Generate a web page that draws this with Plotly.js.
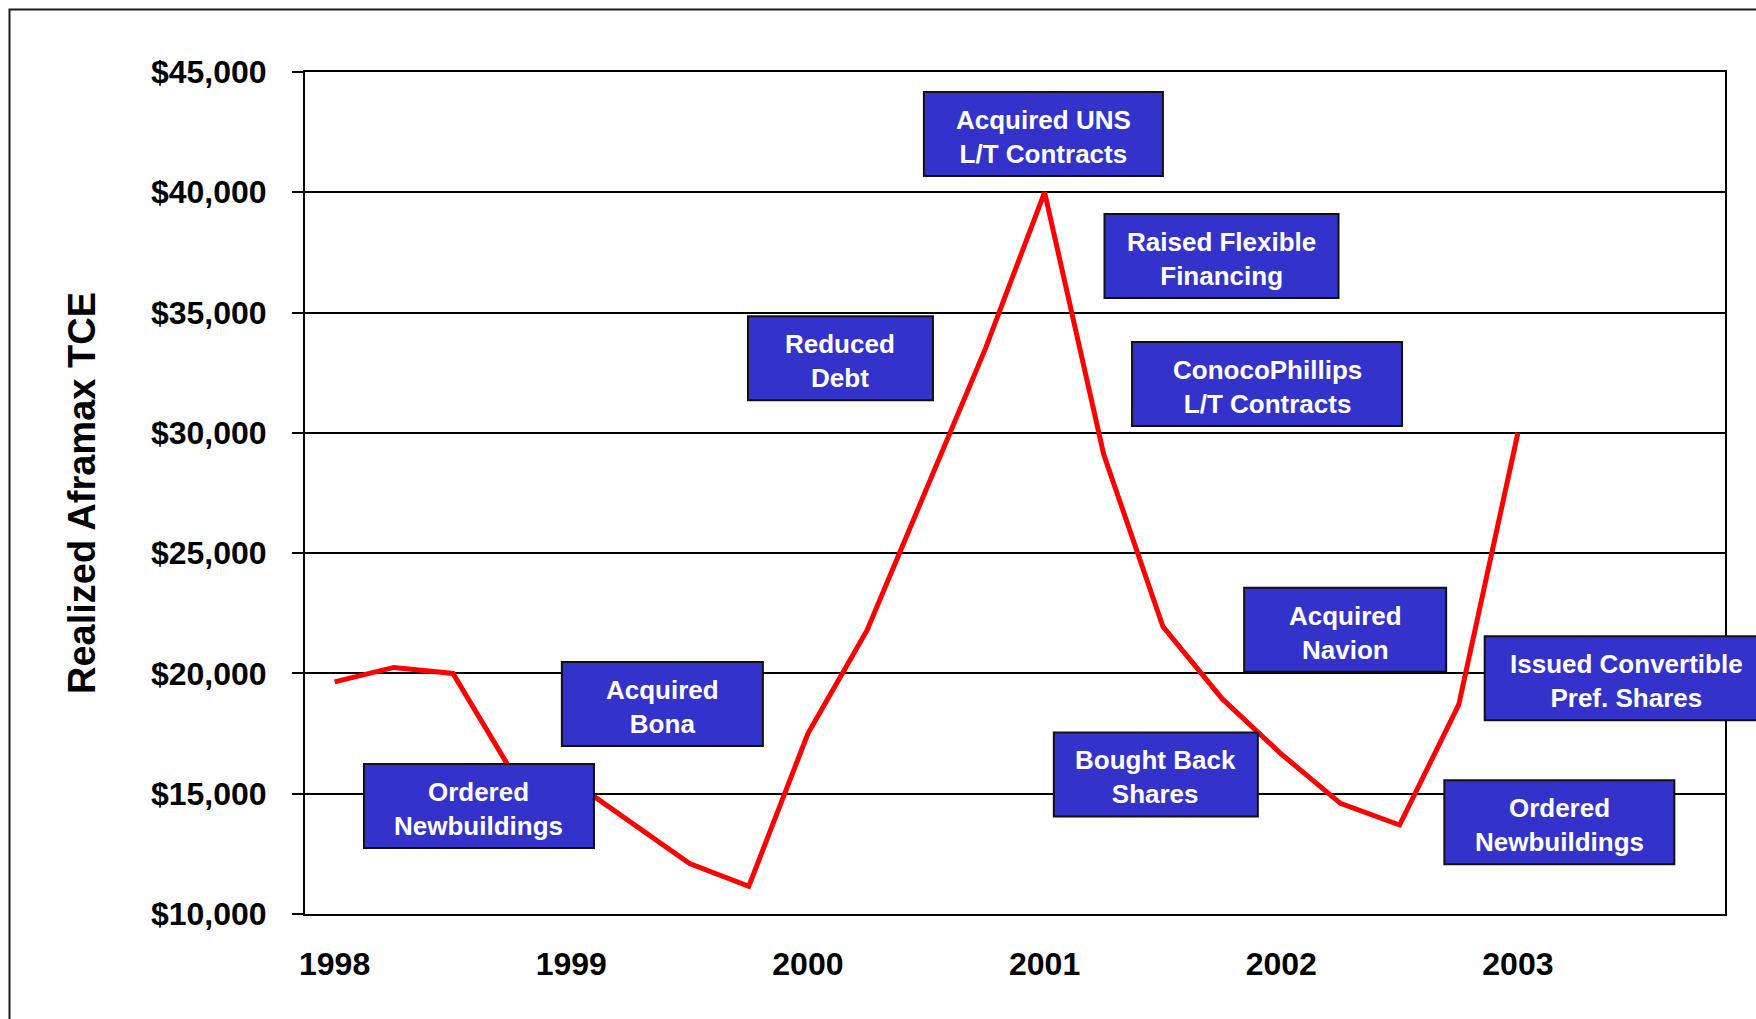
<!DOCTYPE html>
<html>
<head>
<meta charset="utf-8">
<script src="https://cdn.plot.ly/plotly-3.0.1.min.js"></script>
<style>
  html, body { margin: 0; padding: 0; background: #ffffff; }
  #chart { width: 1756px; height: 1019px; }
</style>
</head>
<body>
<div id="chart"></div>
<script>
// Realized Aframax time-charter-equivalent rates, quarterly (USD per day)
const quarters = [
  '1998 Q1', '1998 Q2', '1998 Q3', '1998 Q4',
  '1999 Q1', '1999 Q2', '1999 Q3', '1999 Q4',
  '2000 Q1', '2000 Q2', '2000 Q3', '2000 Q4',
  '2001 Q1', '2001 Q2', '2001 Q3', '2001 Q4',
  '2002 Q1', '2002 Q2', '2002 Q3', '2002 Q4',
  '2003 Q1'
];
const tceRates = [
  19650, 20250, 20000, 15900,
  15550, 13800, 12100, 11150,
  17500, 21800, 27600, 33500,
  40000, 29100, 21950, 18950,
  16650, 14600, 13700, 18700,
  30000
];

// Year labels on the time axis
const yearLabels = ['1998', '1999', '2000', '2001', '2002', '2003'];

// Corporate events called out on the chart
const eventNotes = [
  'Ordered<br>Newbuildings',
  'Acquired<br>Bona',
  'Reduced<br>Debt',
  'Acquired UNS<br>L/T Contracts',
  'Raised Flexible<br>Financing',
  'ConocoPhillips<br>L/T Contracts',
  'Acquired<br>Navion',
  'Bought Back<br>Shares',
  'Ordered<br>Newbuildings',
  'Issued Convertible<br>Pref. Shares'
];

// Where each event box sits (quarter slot, dollar level) and how wide it is (px)
const calloutPlacement = [
  { x: 2.44,  y: 14490, w: 232 },
  { x: 5.54,  y: 18734, w: 203 },
  { x: 8.55,  y: 33105, w: 187 },
  { x: 11.98, y: 42425, w: 241 },
  { x: 14.99, y: 37353, w: 236 },
  { x: 15.76, y: 32028, w: 272 },
  { x: 17.08, y: 21814, w: 204 },
  { x: 13.88, y: 15803, w: 206 },
  { x: 20.70, y: 13816, w: 232 },
  { x: 21.83, y: 19798, w: 285 }
];

const FONT = '"Liberation Sans", Arial, Helvetica, sans-serif';
const QUARTER_SLOTS = 24;               // 1998 Q1 .. 2003 Q4
const xRange = [-0.5, QUARTER_SLOTS - 0.5];
const yRange = [10000, 45000];

const WIDTH = 1756, HEIGHT = 1019;
const MARGIN = { l: 305, r: 31, t: 72, b: 105, pad: 0 };
const plotW = WIDTH - MARGIN.l - MARGIN.r;
const plotH = HEIGHT - MARGIN.t - MARGIN.b;
const BOX_H = 86;                       // outer height of an event box, px

const quarterIndex = quarters.map((q, i) => i);
const yearTickVals = yearLabels.map((y, i) => i * 4);
const halfYearBounds = [];
for (let v = xRange[0]; v <= xRange[1] + 1e-9; v += 2) halfYearBounds.push(v);

// data value -> paper fraction
const xPaper = v => (v - xRange[0]) / (xRange[1] - xRange[0]);
const yPaper = v => (v - yRange[0]) / (yRange[1] - yRange[0]);

const trace = {
  x: quarterIndex,
  y: tceRates,
  text: quarters,
  type: 'scatter',
  mode: 'lines',
  line: { color: '#FF0000', width: 5 },
  hovertemplate: '%{text}: $%{y:,d}<extra></extra>',
  showlegend: false
};

// Blue event boxes (paper-referenced so the last one may run past the plot edge)
const boxShapes = calloutPlacement.map(p => {
  const halfW = (p.w - 2) / 2 / plotW;
  const halfH = (BOX_H - 2) / 2 / plotH;
  const cx = xPaper(p.x), cy = yPaper(p.y);
  return {
    type: 'rect',
    xref: 'paper', yref: 'paper',
    x0: cx - halfW, x1: cx + halfW,
    y0: cy - halfH, y1: cy + halfH,
    fillcolor: '#3333CC',
    line: { color: '#111111', width: 2 },
    layer: 'above'
  };
});

const annotations = eventNotes.map((note, i) => {
  const p = calloutPlacement[i];
  return {
    xref: 'x', yref: 'y',
    x: p.x, y: p.y,
    xanchor: 'center', yanchor: 'middle',
    yshift: -3,
    text: '<b>' + note + '</b>',
    showarrow: false,
    align: 'center',
    font: { family: FONT, size: 26, color: '#ffffff' }
  };
});

const tickAxisBase = {
  overlaying: 'x',
  anchor: 'y',
  range: xRange,
  tickmode: 'array',
  tickvals: halfYearBounds,
  ticklen: 9,
  tickwidth: 2,
  tickcolor: '#000000',
  showticklabels: false,
  showgrid: false,
  zeroline: false,
  showline: false,
  fixedrange: true
};

const layout = {
  width: WIDTH,
  height: HEIGHT,
  margin: MARGIN,
  paper_bgcolor: '#ffffff',
  plot_bgcolor: '#ffffff',
  showlegend: false,
  font: { family: FONT, color: '#000000' },
  xaxis: {
    range: xRange,
    tickmode: 'array',
    tickvals: yearTickVals,
    ticktext: yearLabels,
    ticks: '',
    showgrid: false,
    zeroline: false,
    showline: true,
    mirror: true,
    linecolor: '#000000',
    linewidth: 2,
    tickfont: { family: FONT, size: 32, color: '#000000', weight: 'bold' },
    ticklabelstandoff: 21,
    fixedrange: true
  },
  xaxis2: Object.assign({}, tickAxisBase, { ticks: 'outside' }),
  xaxis3: Object.assign({}, tickAxisBase, { ticks: 'inside' }),
  yaxis: {
    range: yRange,
    tick0: 10000,
    dtick: 5000,
    tickprefix: '$',
    tickformat: ',d',
    showgrid: true,
    gridcolor: '#000000',
    gridwidth: 2,
    zeroline: false,
    showline: true,
    mirror: true,
    linecolor: '#000000',
    linewidth: 2,
    ticks: 'outside',
    ticklen: 11,
    tickwidth: 2,
    tickcolor: '#000000',
    tickfont: { family: FONT, size: 32, color: '#000000', weight: 'bold' },
    ticklabelstandoff: 19,
    title: {
      text: 'Realized Aframax TCE',
      font: { family: FONT, size: 38, color: '#000000', weight: 'bold' },
      standoff: 44
    },
    fixedrange: true
  },
  shapes: [
    {
      // slide frame around the chart
      type: 'rect',
      xref: 'paper', yref: 'paper',
      x0: (9.5 - MARGIN.l) / plotW, x1: (1790 - MARGIN.l) / plotW,
      y0: (HEIGHT - MARGIN.b - 1060) / plotH, y1: (HEIGHT - MARGIN.b - 9.5) / plotH,
      line: { color: '#1a1a1a', width: 2 },
      fillcolor: 'rgba(0,0,0,0)',
      layer: 'below'
    }
  ].concat(boxShapes),
  annotations: annotations
};

Plotly.newPlot('chart', [trace], layout, { displayModeBar: false, staticPlot: true });
</script>
</body>
</html>
